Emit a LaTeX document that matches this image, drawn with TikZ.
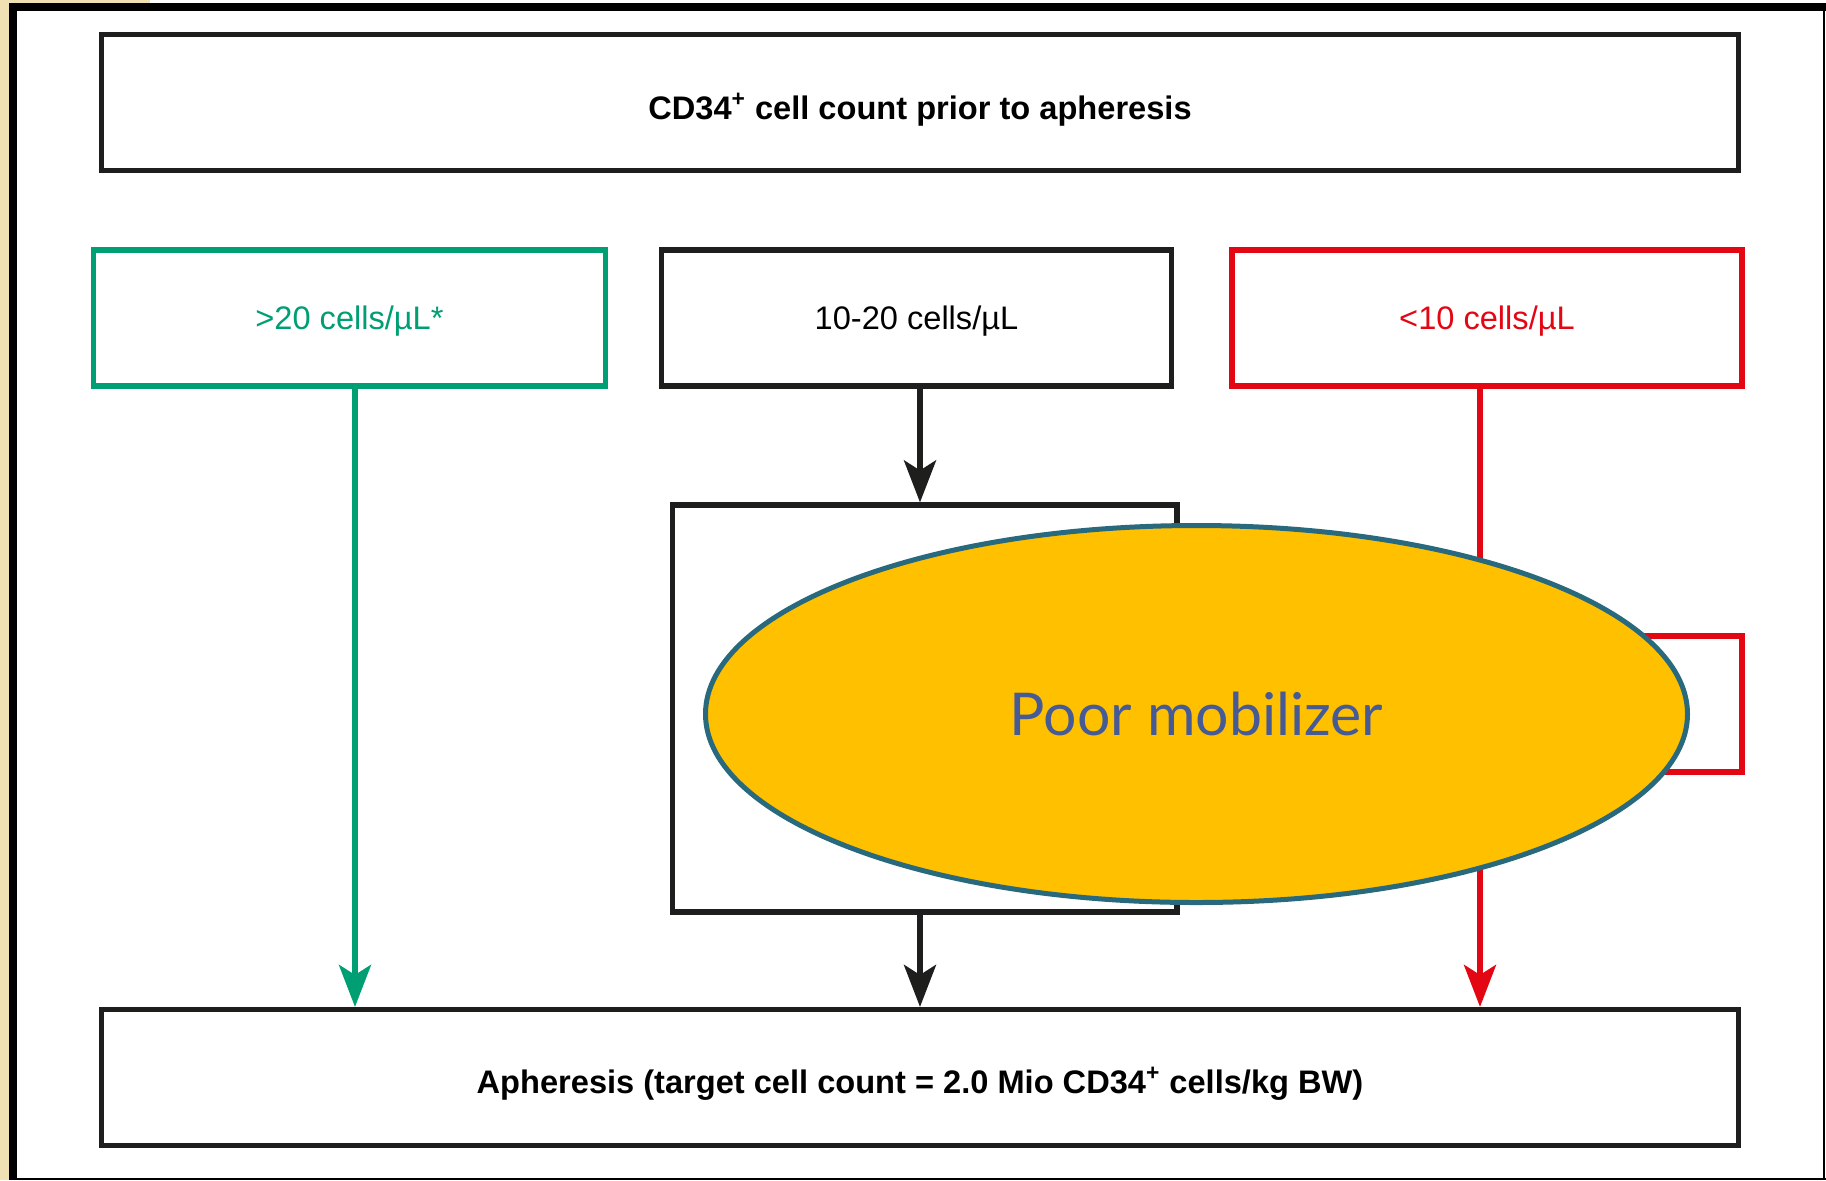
\documentclass[tikz,border=0pt]{standalone}
\usepackage{fontspec}
\setmainfont{Liberation Sans}
\newfontfamily\gillfont{Lato}
\usetikzlibrary{arrows.meta,shapes.geometric}
\definecolor{fgreen}{RGB}{0,158,115}
\definecolor{fred}{RGB}{227,6,19}
\definecolor{fblack}{RGB}{30,30,28}
\definecolor{fgold}{RGB}{255,192,0}
\definecolor{fteal}{RGB}{40,105,125}
\definecolor{ftext}{RGB}{70,90,150}
\definecolor{fbeige}{RGB}{240,225,180}
\begin{document}
\begin{tikzpicture}[x=0.5pt,y=-0.5pt,
  box/.style={draw=fblack, line width=2.6pt, rectangle, inner sep=0pt,
    minimum height=68pt, text height=11pt, text depth=0pt,
    font=\fontsize{16.3}{19}\selectfont},
  bigbox/.style={box, text height=17pt, font=\bfseries\fontsize{16.3}{19}\selectfont, minimum width=818.5pt},
  arr/.style={line width=2.7pt, -{Stealth[length=21pt,width=16pt,inset=5pt]}}
]
\useasboundingbox (0,0) rectangle (1826,1180);
\fill[white] (0,0) rectangle (1826,1180);
% frame
\fill[fbeige] (0,0) rectangle (9,1180);
\fill[fbeige] (0,0) rectangle (150,3);
\fill[black] (9,3) rectangle (1826,11);
\fill[black] (9,3) rectangle (17,1180);
\fill[black] (1823,3) rectangle (1825,1180);
\fill[black] (9,1178) rectangle (1826,1180);

% boxes
\node[bigbox] (top) at (920,102.5) {CD34\textsuperscript{+} cell count prior to apheresis};
\node[bigbox, text height=16pt] (bottom) at (920,1077.5) {Apheresis (target cell count = 2.0 Mio CD34\textsuperscript{+} cells/kg BW)};
\node[box, draw=fgreen, text=fgreen, minimum width=256pt] (green) at (349.5,318) {>20 cells/µL*};
\node[box, minimum width=255pt] (mid) at (916.5,318) {10-20 cells/µL};
\node[box, draw=fred, text=fred, minimum width=255pt] (red) at (1487,318) {<10 cells/µL};
\node[box, minimum width=252.25pt, minimum height=203.5pt] (big) at (924.75,708.5) {};
\node[box, draw=fred, minimum width=255pt] (redsmall) at (1487,704) {};

% connectors
\coordinate (xg) at (355,0);
\coordinate (xb) at (920,0);
\coordinate (xr) at (1480,0);
\draw[arr, fgreen] (green.south -| xg) -- (bottom.north -| xg);
\draw[arr, fblack] (mid.south -| xb) -- (big.north -| xb);
\draw[arr, fblack] (big.south -| xb) -- (bottom.north -| xb);
\draw[arr, fred] (red.south -| xr) -- (bottom.north -| xr);

% overlay ellipse
\node[ellipse, draw=fteal, fill=fgold, line width=2.5pt, inner sep=0pt,
  minimum width=491pt, minimum height=188.5pt, text=ftext,
  font=\gillfont\fontsize{29.5}{34}\selectfont] (poor) at (1196.5,714) {Poor mobilizer};
\end{tikzpicture}
\end{document}
